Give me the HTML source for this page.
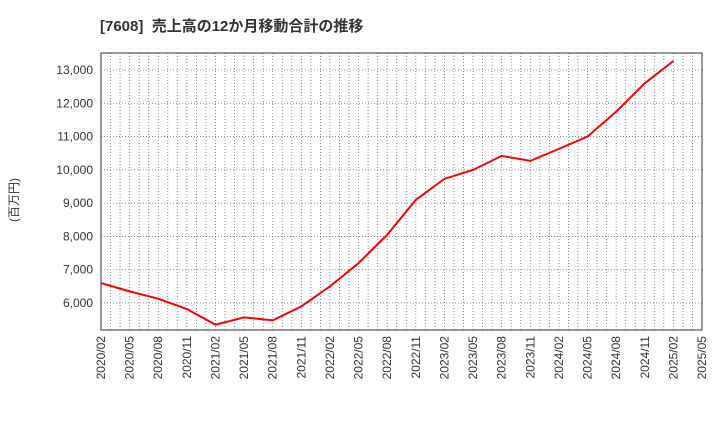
<!DOCTYPE html>
<html><head><meta charset="utf-8"><style>
body{margin:0;background:#fff;}
svg text{font-family:"Liberation Sans","Noto Sans CJK JP",sans-serif;}
</style></head><body>
<svg id="chart" width="720" height="440" xmlns="http://www.w3.org/2000/svg">
<text x="100" y="31" font-size="15" font-weight="bold" fill="#333">[7608]&#160; 売上高の12か月移動合計の推移</text>
<text transform="translate(18,200) rotate(-90)" font-size="12" fill="#333" text-anchor="middle">(百万円)</text>
<g id="grid"></g><g id="axes"></g><g id="series"></g>
</svg>
<script>
const categories=["2020/02","2020/05","2020/08","2020/11","2021/02","2021/05","2021/08","2021/11","2022/02","2022/05","2022/08","2022/11","2023/02","2023/05","2023/08","2023/11","2024/02","2024/05","2024/08","2024/11","2025/02","2025/05"];
const values=[6600,6350,6130,5820,5350,5570,5480,5900,6500,7200,8050,9100,9730,10000,10420,10270,10630,11000,11750,12600,13270];
const yTicks=[6000,7000,8000,9000,10000,11000,12000,13000];
const L=101,R=702,T=53,B=330,yMin=5190,yMax=13510;
const NS="http://www.w3.org/2000/svg";
const xs=i=>L+(R-L)*i/(categories.length-1);
const ys=v=>B-(v-yMin)/(yMax-yMin)*(B-T);
function mk(t,a,p){const e=document.createElementNS(NS,t);for(const k in a)e.setAttribute(k,a[k]);p.appendChild(e);return e;}
const g=document.getElementById('grid'),ax=document.getElementById('axes'),s=document.getElementById('series');
const nM=(categories.length-1)*3;
for(let m=1;m<nM;m++){const x=L+(R-L)*m/nM;
const l=mk('line',{x1:x,x2:x,y1:T,y2:B,stroke:'#777','stroke-width':0.8,'stroke-dasharray':'1,2'},g);

}
yTicks.forEach(v=>{const y=ys(v);
const l=mk('line',{x1:L,x2:R,y1:y,y2:y,stroke:'#777','stroke-width':0.8,'stroke-dasharray':'1,2'},g);


const t=mk('text',{x:L-8,y:y+4,'font-size':12,fill:'#333','text-anchor':'end'},ax);t.textContent=v.toLocaleString('en-US');

});
categories.forEach((c,i)=>{const x=xs(i);
const t=mk('text',{transform:`translate(${x+4},${B+6}) rotate(-90)`,'font-size':12,fill:'#333','text-anchor':'end'},ax);t.textContent=c;

});
const f=mk('rect',{x:L,y:T,width:R-L,height:B-T,fill:'none',stroke:'#333','stroke-width':1},ax);


const p=mk('polyline',{points:values.map((v,i)=>xs(i)+','+ys(v)).join(' '),fill:'none',stroke:'#f00','stroke-width':2},s);


</script>
</body></html>
